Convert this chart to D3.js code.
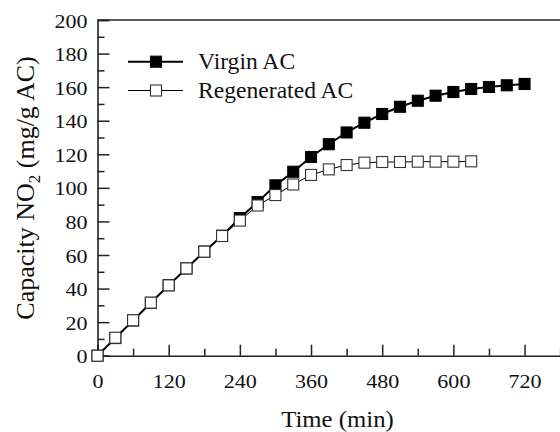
<!DOCTYPE html>
<html>
<head>
<meta charset="utf-8">
<script src="https://cdn.jsdelivr.net/npm/d3@7"></script>
<style>
  body { margin: 0; background: #fff; }
  svg text { font-family: "Liberation Serif", "Times New Roman", serif; fill: #111; }
</style>
</head>
<body>
<svg id="chart" width="560" height="432"></svg>
<script>
// data
const virginTime = [0, 30, 60, 90, 120, 150, 180, 210, 240, 270, 300, 330, 360, 390, 420, 450, 480, 510, 540, 570, 600, 630, 660, 690, 720];
const virginCap = [0, 10.5, 21, 31.5, 42, 52, 62, 71.5, 82, 91.5, 101.5, 109.6, 118.4, 126, 133, 138.8, 144, 148.3, 151.9, 154.9, 157.1, 158.9, 160.1, 161.1, 161.9];
const regenTime = [0, 30, 60, 90, 120, 150, 180, 210, 240, 270, 300, 330, 360, 390, 420, 450, 480, 510, 540, 570, 600, 630];
const regenCap = [0, 10.7, 21.1, 31.6, 41.9, 52, 62, 71.3, 80.5, 89.5, 95.7, 102, 107.7, 111, 113.6, 115, 115.4, 115.4, 115.6, 115.6, 115.6, 115.8];

const xMajor = [0, 120, 240, 360, 480, 600, 720];
const xMinor = [60, 180, 300, 420, 540, 660, 780];
const yMajor = [0, 20, 40, 60, 80, 100, 120, 140, 160, 180, 200];
const yMinor = [10, 30, 50, 70, 90, 110, 130, 150, 170, 190];

const svg = d3.select("#chart");

// plot is cropped on the right in the original
const x = d3.scaleLinear().domain([0, 800]).range([97.5, 572]);
const y = d3.scaleLinear().domain([0, 200]).range([355.7, 20]);

const axisColor = "#222";
const tickFont = 19;
const tickStretch = 1.16;   // the source figure's text is a bit wide

// x axis, ticks pointing inward
const xAxis = svg.append("g").attr("transform", "translate(0," + y(0) + ")");
xAxis.call(d3.axisBottom(x).tickValues(xMajor).tickSize(-11).tickFormat(d3.format("d")));
xAxis.append("g").call(d3.axisBottom(x).tickValues(xMinor).tickSize(-7).tickFormat(""));

const yAxis = svg.append("g").attr("transform", "translate(" + x(0) + ",0)");
yAxis.call(d3.axisLeft(y).tickValues(yMajor).tickSize(-12).tickFormat(d3.format("d")));
yAxis.append("g").call(d3.axisLeft(y).tickValues(yMinor).tickSize(-7).tickFormat(""));

svg.selectAll(".domain").attr("stroke", axisColor).attr("stroke-width", 1.6);
svg.selectAll(".tick line").attr("stroke", axisColor).attr("stroke-width", 1.5);
svg.selectAll(".tick text").attr("font-size", tickFont).attr("fill", "#111")
   .attr("font-family", "Liberation Serif")
   .attr("transform", "scale(" + tickStretch + ",1)")
   .attr("dy", 0);
xAxis.selectAll(".tick text").attr("y", 32.3);
yAxis.selectAll(".tick text").attr("x", -10 / tickStretch).attr("y", 7);
xAxis.selectAll(".domain").filter(function() { return this.parentNode !== xAxis.node(); }).remove();
yAxis.selectAll(".domain").filter(function() { return this.parentNode !== yAxis.node(); }).remove();

// top frame line
svg.append("line")
    .attr("x1", x(0)).attr("x2", 560)
    .attr("y1", y(200)).attr("y2", y(200))
    .attr("stroke", axisColor).attr("stroke-width", 1.6);

// series
const line = d3.line().x(d => x(d[0])).y(d => y(d[1]));
const ms = 11;

function drawSeries(times, caps, fill, width) {
    const pts = times.map((t, i) => [t, caps[i]]);
    const g = svg.append("g");
    g.append("path")
        .datum(pts)
        .attr("d", line)
        .attr("fill", "none")
        .attr("stroke", "#000")
        .attr("stroke-width", width);
    g.selectAll("rect")
        .data(pts)
        .enter()
        .append("rect")
        .attr("x", d => x(d[0]) - ms / 2)
        .attr("y", d => y(d[1]) - ms / 2)
        .attr("width", ms)
        .attr("height", ms)
        .attr("fill", fill)
        .attr("stroke", fill === "#000" ? "#000" : "#333")
        .attr("stroke-width", 1.1);
}

drawSeries(virginTime, virginCap, "#000", 2);
drawSeries(regenTime, regenCap, "#fff", 1);

// legend
const legend = [
    { label: "Virgin AC", fill: "#000", width: 2, y: 61.7 },
    { label: "Regenerated AC", fill: "#fff", width: 1, y: 90.5 }
];
const lg = svg.append("g");
legend.forEach(function(d) {
    lg.append("line")
        .attr("x1", 128).attr("x2", 183)
        .attr("y1", d.y).attr("y2", d.y)
        .attr("stroke", "#000").attr("stroke-width", d.width);
    lg.append("rect")
        .attr("x", 156 - 5.5).attr("y", d.y - 5.5)
        .attr("width", 11).attr("height", 11)
        .attr("fill", d.fill)
        .attr("stroke", d.fill === "#000" ? "#000" : "#333")
        .attr("stroke-width", 1.1);
    lg.append("text")
        .attr("transform", "translate(198," + (d.y + 7.5) + ") scale(1.05,1)")
        .attr("font-size", 22.5)
        .text(d.label);
});

// axis titles
svg.append("text")
    .attr("transform", "translate(337.5,426.5) scale(1.1,1)")
    .attr("text-anchor", "middle")
    .attr("font-size", 22.5)
    .text("Time (min)");

const yt = svg.append("text")
    .attr("transform", "translate(34,188) rotate(-90)")
    .attr("text-anchor", "middle")
    .attr("font-size", 26);
yt.append("tspan").text("Capacity NO");
yt.append("tspan").attr("font-size", 17).attr("dy", 6).text("2");
yt.append("tspan").attr("dy", -6).text(" (mg/g AC)");
</script>
</body>
</html>
